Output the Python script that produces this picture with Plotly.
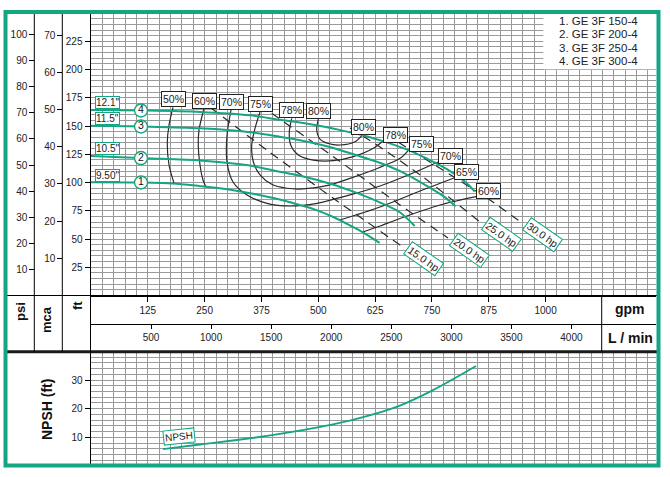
import numpy as np
import plotly.graph_objects as go

# ---------------- data ----------------
models = ["1. GE 3F 150-4", "2. GE 3F 200-4", "3. GE 3F 250-4", "4. GE 3F 300-4"]
impellers = ['9.50"', '10.5"', '11.5"', '12.1"']
curve_ids = ["1", "2", "3", "4"]

# head curves (gpm, ft)
flow_c1 = [0, 110, 180, 240, 300, 350, 415, 460, 490, 533, 570, 600, 635]
head_c1 = [100.2, 100, 99.2, 96.8, 94, 90.5, 85, 80, 76.5, 69.5, 62, 55.5, 46.5]
flow_c2 = [0, 120, 240, 350, 415, 460, 530, 580, 635, 680, 712]
head_c2 = [123.5, 121.5, 119.5, 115, 109.5, 106, 98.5, 91.5, 82.5, 73.5, 61.5]
flow_c3 = [0, 120, 240, 350, 415, 460, 525, 570, 635, 680, 745, 775, 802]
head_c3 = [150.3, 149.5, 148, 144.5, 140.5, 137.5, 131.5, 126, 117.5, 110, 95.5, 88, 79]
flow_c4 = [0, 120, 240, 350, 415, 460, 525, 547, 606, 635, 690, 730, 782, 826, 844]
head_c4 = [164.2, 163.7, 162.5, 159.5, 155.5, 153.2, 148.5, 146.5, 141, 137.5, 130, 123, 112, 99.5, 92]

# efficiency contours (gpm, ft)
flow_e50 = [180.4, 171.6, 167.8, 171.6, 183.2]
head_e50 = [166.6, 150.9, 134.7, 115.5, 98.7]
flow_e60a = [248.6, 237.6, 236, 239.8, 246.4, 253]
head_e60a = [165.5, 146.5, 131.7, 115.5, 102.2, 96]
flow_e70 = [308, 299.2, 299.2, 312.4, 343.2, 387.2, 437.8, 497.1, 569.7, 635.7, 708.3, 763.3]
head_e70 = [164.2, 142, 118.1, 100.5, 89, 81.6, 79.2, 81.6, 89, 96.9, 108.4, 118.2]
flow_e75 = [371.8, 360.8, 353.5, 357, 371.8, 397.5, 430.5, 467, 518.5, 569.7, 621, 680, 699.5]
head_e75 = [162.4, 148, 133.2, 118.4, 106.7, 98.4, 94.9, 94.3, 97.2, 103.7, 111.1, 121.4, 129.2]
flow_e78 = [441.5, 436.2, 439.3, 456, 489, 533, 577, 621, 642.3]
head_e78 = [156.8, 145, 133.2, 124.4, 119.9, 119.3, 122.9, 130.3, 136.8]
flow_e80 = [500, 496.5, 503.7, 522, 547.7, 580.7, 600.5]
head_e80 = [156.2, 146.5, 138.5, 134.5, 133.2, 136.1, 143.8]
flow_e65b = [547.7, 635.7, 723.7, 798.5]
head_e65b = [66.8, 78.3, 92.5, 104]
flow_e60b = [598.3, 635.7, 679.7, 767.7, 847]
head_e60b = [56.2, 61.5, 68.2, 80.1, 87.5]

# power lines (gpm, ft)
flow_p15 = [264, 386.5, 533, 686.3]
head_p15 = [166, 128.8, 86, 42.9]
flow_p20 = [397.5, 533, 679.7, 785.3]
head_p20 = [161.3, 122.9, 80.1, 50.9]
flow_p25 = [569.7, 635.7, 730.3, 855.7]
head_p25 = [148.3, 131.4, 104.9, 65.1]
flow_p30 = [675.3, 745.7, 877.7, 948]
head_p30 = [135.9, 118.2, 84.5, 64.2]
power_labels = ["15.0 hp", "20.0 hp", "25.0 hp", "30.0 hp"]

# NPSH curve (gpm, ft)
flow_npsh = [158.4, 239.8, 387.2, 532.3, 606.8, 679.4, 752.3, 847]
npsh_ft = [5.9, 7.5, 10.5, 14.5, 17.4, 21.1, 26.5, 34.9]

gpm_ticks = [125, 250, 375, 500, 625, 750, 875, 1000]
lpm_ticks = [500, 1000, 1500, 2000, 2500, 3000, 3500, 4000]
ft_ticks = [25, 50, 75, 100, 125, 150, 175, 200, 225]
mca_ticks = [10, 20, 30, 40, 50, 60, 70]
psi_ticks = [10, 20, 30, 40, 50, 60, 70, 80, 90, 100]
npsh_ticks = [10, 20, 30]
marker_flow = 110

# ---------------- geometry / style ----------------
W, H = 670, 477
def px(v): return v / W
def py(v): return 1 - v / H

X0, KX = 91.0, 0.4546
L, R = 90.5, 656.0
Y0, KY = 295.5, 1.1298
TOP = 14.0
N0, KN = 466.0, 2.865
NTOP, NBOT = 353.0, 464.0
FT_PER_PSI, FT_PER_M, LPM_PER_GPM = 2.31, 3.29, 3.785

xr = [(L - X0) / KX, (R - X0) / KX]
yr = [0, (Y0 - TOP) / KY]
nr = [(N0 - NBOT) / KN, (N0 - NTOP) / KN]

GREEN = "#14a583"
GRID = "#9a9a9a"
DARK = "#2a2a2a"
FONT = "Liberation Sans, Arial, sans-serif"
tickfont = dict(family=FONT, size=10, color="#222")

fig = go.Figure()

def add_line(x, y, color, width, dash=None, xa="x", ya="y", smooth=0.8):
    fig.add_trace(go.Scatter(x=x, y=y, mode="lines", xaxis=xa, yaxis=ya,
                             line=dict(color=color, width=width, dash=dash,
                                       shape="spline", smoothing=smooth),
                             hoverinfo="skip", showlegend=False))

eff_sets = [(flow_e50, head_e50), (flow_e60a, head_e60a), (flow_e70, head_e70),
            (flow_e75, head_e75), (flow_e78, head_e78), (flow_e80, head_e80),
            (flow_e65b, head_e65b), (flow_e60b, head_e60b)]
for fx, hy in eff_sets:
    add_line(fx, hy, DARK, 1.2)

power_sets = [(flow_p15, head_p15), (flow_p20, head_p20), (flow_p25, head_p25), (flow_p30, head_p30)]
for fx, hy in power_sets:
    add_line(fx, hy, DARK, 1.2, dash="9px,6px", smooth=0.5)

curves = [(flow_c1, head_c1), (flow_c2, head_c2), (flow_c3, head_c3), (flow_c4, head_c4)]
for fx, hy in curves:
    add_line(fx, hy, GREEN, 2.0)

# numbered circles on curves
fig.add_trace(go.Scatter(
    x=[marker_flow] * 4, y=[float(np.interp(marker_flow, fx, hy)) for fx, hy in curves],
    mode="markers+text", text=curve_ids, textposition="middle center",
    textfont=dict(family=FONT, size=10.5, color="#111"),
    marker=dict(symbol="circle", size=13, color="white", line=dict(color=GREEN, width=1.4)),
    hoverinfo="skip", showlegend=False, xaxis="x", yaxis="y"))

# NPSH
add_line(flow_npsh, npsh_ft, GREEN, 1.8, xa="x3", ya="y4", smooth=1.0)

# helper traces so secondary scales are drawn
fig.add_trace(go.Scatter(x=np.array(flow_c4) * LPM_PER_GPM, y=head_c4, xaxis="x2", yaxis="y",
                         mode="lines", line=dict(width=0), opacity=0, hoverinfo="skip", showlegend=False))
fig.add_trace(go.Scatter(x=flow_c4, y=np.array(head_c4) / FT_PER_PSI, xaxis="x", yaxis="y2",
                         mode="lines", line=dict(width=0), opacity=0, hoverinfo="skip", showlegend=False))
fig.add_trace(go.Scatter(x=flow_c4, y=np.array(head_c4) / FT_PER_M, xaxis="x", yaxis="y3",
                         mode="lines", line=dict(width=0), opacity=0, hoverinfo="skip", showlegend=False))

# ---------------- annotations ----------------
ann = []
eff_box = dict(bordercolor="#222", borderwidth=1, bgcolor="white", borderpad=1,
               font=dict(family=FONT, size=10.5, color="#222"), showarrow=False, xref="x", yref="y")
left_labels = [("50%", flow_e50, head_e50), ("60%", flow_e60a, head_e60a), ("70%", flow_e70, head_e70),
               ("75%", flow_e75, head_e75), ("78%", flow_e78, head_e78), ("80%", flow_e80, head_e80)]
for t, fx, hy in left_labels:
    ann.append(dict(text=t, x=fx[0], y=hy[0], xanchor="center", yanchor="bottom", **eff_box))
right_labels = [("80%", flow_e80, head_e80, "center"), ("78%", flow_e78, head_e78, "left"),
                ("75%", flow_e75, head_e75, "left"), ("70%", flow_e70, head_e70, "left"),
                ("65%", flow_e65b, head_e65b, "left"), ("60%", flow_e60b, head_e60b, "left")]
for t, fx, hy, xa in right_labels:
    ann.append(dict(text=t, x=fx[-1], y=hy[-1], xanchor=xa, yanchor="bottom", yshift=-2, **eff_box))

for t, (fx, hy) in zip(power_labels, power_sets):
    ann.append(dict(text=t, x=fx[-1], y=hy[-1], xref="x", yref="y", xanchor="center", yanchor="middle",
                    xshift=21, yshift=-12, textangle=35, showarrow=False,
                    bordercolor=GREEN, borderwidth=1, bgcolor="white", borderpad=1,
                    font=dict(family=FONT, size=10.5, color="#222")))

for t, (fx, hy) in zip(impellers, curves):
    ann.append(dict(text=t, x=0, y=hy[0], xref="x", yref="y", xanchor="left", yanchor="middle",
                    xshift=4, yshift=7, showarrow=False, bordercolor=GREEN, borderwidth=1,
                    bgcolor="white", borderpad=0, font=dict(family=FONT, size=10, color="#222")))

ann.append(dict(text="NPSH", x=flow_npsh[0], y=npsh_ft[0], xref="x3", yref="y4", xanchor="center",
                yanchor="middle", xshift=16, yshift=13, textangle=-6, showarrow=False,
                bordercolor=GREEN, borderwidth=1, bgcolor="white", borderpad=1,
                font=dict(family=FONT, size=10, color="#222")))

for i, m in enumerate(models):
    ann.append(dict(text=m, x=px(557), y=py(21 + 13.4 * i), xref="paper", yref="paper",
                    xanchor="left", yanchor="middle", showarrow=False,
                    font=dict(family=FONT, size=11.5, color="#222")))

def title(t, x, y, size, angle=0):
    ann.append(dict(text="<b>%s</b>" % t, x=px(x), y=py(y), xref="paper", yref="paper",
                    xanchor="center", yanchor="middle", showarrow=False, textangle=angle,
                    font=dict(family=FONT, size=size, color="#111")))

title("psi", 20, 312, 13, -90)
title("mca", 46, 320, 13, -90)
title("ft", 77, 306, 13, -90)
title("gpm", 630, 309, 14)
title("L / min", 630, 338, 14)
title("NPSH (ft)", 47, 410, 14, -90)

# ---------------- frame shapes ----------------
def pline(x0, y0, x1, y1, w=1, c="black"):
    return dict(type="line", xref="paper", yref="paper", x0=px(x0), y0=py(y0), x1=px(x1), y1=py(y1),
                line=dict(color=c, width=w), layer="above")

shapes = [
    dict(type="rect", xref="paper", yref="paper", x0=px(543.3), x1=px(R), y0=py(69.3), y1=py(TOP),
         fillcolor="white", line=dict(width=0), layer="above"),
    pline(5, Y0, 658, Y0),
    pline(5, 351.7, 658, 351.7, 3, "#1a1a1a"),
    pline(34.3, TOP, 34.3, 351.7),
    pline(62.3, TOP, 62.3, 351.7),
    pline(L, TOP, L, NBOT),
    pline(601.7, Y0, 601.7, 351.7),
    dict(type="rect", xref="paper", yref="paper", x0=px(5.5), x1=px(658.5), y0=py(465.5), y1=py(12),
         line=dict(color=GREEN, width=4), fillcolor="rgba(0,0,0,0)", layer="above"),
]

minor_x = dict(tickmode="linear", tick0=0, dtick=25, showgrid=True, gridcolor=GRID, gridwidth=1, ticks="")

fig.update_layout(
    width=W, height=H, margin=dict(l=0, r=0, t=0, b=0),
    paper_bgcolor="white", plot_bgcolor="white", showlegend=False,
    annotations=ann, shapes=shapes,
    xaxis=dict(domain=[px(L), px(R)], range=xr, anchor="y", tickmode="array", tickvals=gpm_ticks,
               ticks="outside", ticklen=5, tickcolor="black", tickfont=tickfont,
               showline=True, linecolor="black", linewidth=1, showgrid=True, gridcolor=GRID,
               minor=minor_x, zeroline=False, fixedrange=True),
    xaxis2=dict(overlaying="x", anchor="free", position=py(324.3), side="bottom",
                range=[v * LPM_PER_GPM for v in xr], tickmode="array", tickvals=lpm_ticks,
                ticks="outside", ticklen=4, tickcolor="black", tickfont=tickfont,
                showline=True, linecolor="black", linewidth=1, showgrid=False, zeroline=False),
    xaxis3=dict(domain=[px(L), px(R)], range=xr, anchor="y4", showticklabels=False, ticks="",
                tickmode="linear", tick0=0, dtick=25, showgrid=True, gridcolor=GRID,
                showline=False, zeroline=False),
    yaxis=dict(domain=[py(Y0), py(TOP)], range=yr, anchor="x", tickmode="array", tickvals=ft_ticks,
               ticks="outside", ticklen=5, tickcolor="black", tickfont=tickfont,
               showline=True, linecolor="black", linewidth=1, showgrid=True, gridcolor=GRID,
               minor=dict(tickmode="linear", tick0=0, dtick=5, showgrid=True, gridcolor=GRID,
                          gridwidth=1, ticks=""), zeroline=False),
    yaxis2=dict(overlaying="y", anchor="free", position=px(34.3), side="left",
                range=[0, yr[1] / FT_PER_PSI], tickmode="array", tickvals=psi_ticks,
                ticks="outside", ticklen=5, tickcolor="black", tickfont=tickfont,
                showgrid=False, showline=False, zeroline=False),
    yaxis3=dict(overlaying="y", anchor="free", position=px(62.3), side="left",
                range=[0, yr[1] / FT_PER_M], tickmode="array", tickvals=mca_ticks,
                ticks="outside", ticklen=5, tickcolor="black", tickfont=tickfont,
                showgrid=False, showline=False, zeroline=False),
    yaxis4=dict(domain=[py(NBOT), py(NTOP)], range=nr, anchor="x3", tickmode="array",
                tickvals=npsh_ticks, ticks="outside", ticklen=5, tickcolor="black", tickfont=tickfont,
                showline=True, linecolor="black", linewidth=1, showgrid=True, gridcolor=GRID,
                minor=dict(tickmode="linear", tick0=0, dtick=2, showgrid=True, gridcolor=GRID,
                           gridwidth=1, ticks=""), zeroline=False),
)

fig.write_html("out.html", config={"displayModeBar": False, "staticPlot": True},
               post_script="document.body.style.margin='0';document.body.style.overflow='hidden';")
